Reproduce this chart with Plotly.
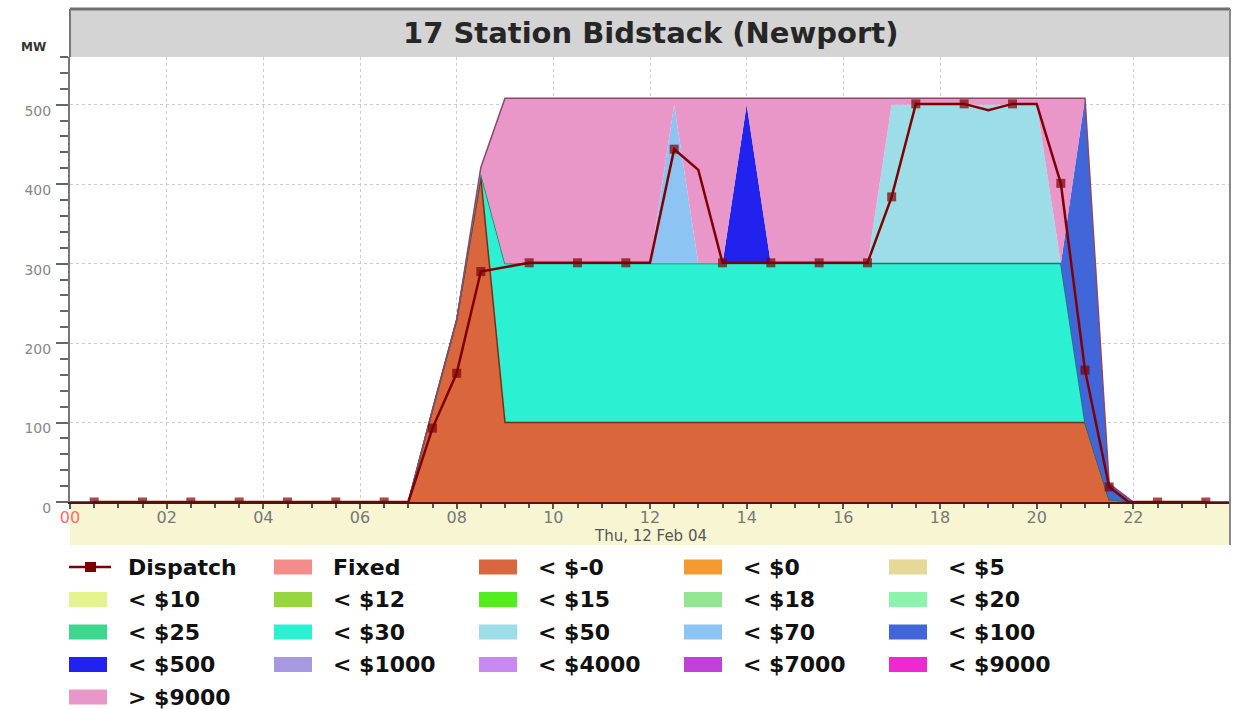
import plotly.graph_objects as go

# ---------------- data ----------------
hours = [0, 7.0, 7.5, 8.0, 8.5, 9.0, 9.5, 10.0, 10.5, 11.0, 11.5, 12.0, 12.5, 13.0,
         13.5, 14.0, 14.5, 15.0, 15.5, 16.0, 16.5, 17.0, 17.5, 18.0, 18.5, 19.0,
         19.5, 20.0, 20.5, 21.0, 21.5, 22.0, 24.0]

band_neg0 = [0, 0, 116, 229, 408, 100, 100, 100, 100, 100, 100, 100, 100, 100,
             100, 100, 100, 100, 100, 100, 100, 100, 100, 100, 100, 100,
             100, 100, 100, 100, 3, 0, 0]
band_30 = [0, 0, 0, 0, 5, 200, 200, 200, 200, 200, 200, 200, 200, 200,
           200, 200, 200, 200, 200, 200, 200, 200, 200, 200, 200, 200,
           200, 200, 200, 0, 0, 0, 0]
band_50 = [0, 0, 0, 0, 0, 0, 0, 0, 0, 0, 0, 0, 0, 0,
           0, 0, 0, 0, 0, 0, 0, 200, 200, 200, 200, 200,
           200, 200, 0, 0, 0, 0, 0]
band_70 = [0, 0, 0, 0, 0, 0, 0, 0, 0, 0, 0, 0, 200, 0,
           0, 0, 0, 0, 0, 0, 0, 0, 0, 0, 0, 0,
           0, 0, 0, 0, 0, 0, 0]
band_100 = [0, 0, 0, 0, 0, 0, 0, 0, 0, 0, 0, 0, 0, 0,
            0, 0, 0, 0, 0, 0, 0, 0, 0, 0, 0, 0,
            0, 0, 0, 408, 20, 0, 0]
band_500 = [0, 0, 0, 0, 0, 0, 0, 0, 0, 0, 0, 0, 0, 0,
            0, 200, 0, 0, 0, 0, 0, 0, 0, 0, 0, 0,
            0, 0, 0, 0, 0, 0, 0]
band_9000plus = [0, 0, 0, 0, 8, 208, 208, 208, 208, 208, 208, 208, 8, 208,
                 208, 8, 208, 208, 208, 208, 208, 8, 8, 8, 8, 8,
                 8, 8, 208, 0, 0, 0, 0]

dispatch_t = [0.5, 1.5, 2.5, 3.5, 4.5, 5.5, 6.5, 7.0, 7.5, 8.0, 8.5, 9.5, 10.5, 11.5,
              12.0, 12.5, 13.0, 13.5, 14.5, 15.5, 16.5, 17.0, 17.5, 18.5, 19.0, 19.5,
              20.0, 20.5, 21.0, 21.5, 21.9, 22.5, 23.5]
dispatch_mw = [0, 0, 0, 0, 0, 0, 0, 0, 93, 162, 290, 301, 301, 301,
               301, 444, 418, 301, 301, 301, 301, 384, 501, 501, 493, 501,
               501, 401, 166, 19, 0, 0, 0]
dispatch_marked = [1, 1, 1, 1, 1, 1, 1, 0, 1, 1, 1, 1, 1, 1,
                   0, 1, 0, 1, 1, 1, 1, 1, 1, 1, 0, 1,
                   0, 1, 1, 1, 0, 1, 1]

x_tick_vals = [0, 2, 4, 6, 8, 10, 12, 14, 16, 18, 20, 22]
x_tick_text = ["00", "02", "04", "06", "08", "10", "12", "14", "16", "18", "20", "22"]
y_tick_vals = [0, 100, 200, 300, 400, 500]
y_tick_text = ["0", "100", "200", "300", "400", "500"]

legend_labels = ["Dispatch", "Fixed", "< $-0", "< $0", "< $5",
                 "< $10", "< $12", "< $15", "< $18", "< $20",
                 "< $25", "< $30", "< $50", "< $70", "< $100",
                 "< $500", "< $1000", "< $4000", "< $7000", "< $9000",
                 "> $9000"]

title_text = "17 Station Bidstack (Newport)"
date_text = "Thu, 12 Feb 04"

# ---------------- styles ----------------
legend_colors = ["#7a0000", "#f48c8c", "#d9663c", "#f39a30", "#e6d898",
                 "#e6f48e", "#96d640", "#52ee22", "#92e692", "#8cf4aa",
                 "#3cd68e", "#2cf0d2", "#9cdde8", "#8ec4f4", "#4166d9",
                 "#2222ee", "#a898e0", "#c88af0", "#c040d8", "#f028d0",
                 "#e897c8"]

stack = [
    ("< $-0", band_neg0, "#d9663c", "#7a2e10", 1.5),
    ("< $30", band_30, "#2cf0d2", "#1d7a68", 1.5),
    ("< $50", band_50, "#9cdde8", "#4a7c86", 0),
    ("< $70", band_70, "#8ec4f4", "#4a6a90", 0),
    ("< $100", band_100, "#4166d9", "#1c2f78", 0),
    ("< $500", band_500, "#2222ee", "#10107a", 0),
    ("> $9000", band_9000plus, "#e897c8", "#8a4a6a", 1.5),
]

FONT = "DejaVu Sans"
W, H = 1237, 709
L, R, T, B = 70, 7, 57, 207
PW, PH = W - L - R, H - T - B


def px_x(p):
    return (p - L) / PW


def px_y(p):
    return (H - B - p) / PH


fig = go.Figure()

for name, vals, fc, lc, lw in stack:
    fig.add_trace(go.Scatter(
        x=hours, y=vals, name=name, mode="lines", stackgroup="bids",
        fillcolor=fc, line=dict(color=lc, width=lw), showlegend=False,
        hoverinfo="skip"))

fig.add_trace(go.Scatter(
    x=dispatch_t, y=dispatch_mw, name="Dispatch", mode="lines+markers",
    line=dict(color="#800000", width=2.5),
    marker=dict(symbol="square", color="#7a0000", line=dict(width=0),
                size=[9 if m else 0 for m in dispatch_marked]),
    showlegend=False, hoverinfo="skip"))

shapes = []
annotations = []

# title band and frame
top_px = 9
shapes.append(dict(type="rect", xref="paper", yref="paper", x0=0, x1=1,
                   y0=1, y1=px_y(top_px), fillcolor="#d4d4d4", line=dict(width=0),
                   layer="below"))
shapes.append(dict(type="rect", xref="paper", yref="paper", x0=0, x1=1,
                   y0=px_y(545), y1=0, fillcolor="#f8f6d2", line=dict(width=0),
                   layer="below"))
shapes.append(dict(type="line", xref="paper", yref="paper", x0=0, x1=1,
                   y0=px_y(top_px), y1=px_y(top_px), line=dict(color="#707070", width=3)))
shapes.append(dict(type="line", xref="paper", yref="paper", x0=0, x1=0,
                   y0=1, y1=px_y(top_px), line=dict(color="#777777", width=2)))
shapes.append(dict(type="line", xref="paper", yref="paper", x0=1, x1=1,
                   y0=px_y(545), y1=px_y(top_px), line=dict(color="#8a8a8a", width=2)))

annotations.append(dict(text=title_text, xref="paper", yref="paper", x=0.5, y=px_y(33),
                        xanchor="center", yanchor="middle", showarrow=False,
                        font=dict(family=FONT, size=29, color="#262626", weight="bold")))
annotations.append(dict(text="MW", xref="paper", yref="paper", x=px_x(33), y=px_y(47),
                        xanchor="center", yanchor="middle", showarrow=False,
                        font=dict(family=FONT, size=12, color="#333333", weight="bold")))
annotations.append(dict(text=date_text, xref="x", yref="paper", x=12, y=px_y(536),
                        xanchor="center", yanchor="middle", showarrow=False,
                        font=dict(family=FONT, size=15, color="#555555")))

# legend (manual grid, 5 columns)
col_left0, col_step = 69, 205
row_top0, row_step = 567, 32.5
sw_w, sw_h = 38, 15
for i, (lab, col) in enumerate(zip(legend_labels, legend_colors)):
    r, c = divmod(i, 5)
    xl = col_left0 + c * col_step
    yc = row_top0 + r * row_step
    if lab == "Dispatch":
        shapes.append(dict(type="line", xref="paper", yref="paper",
                           x0=px_x(xl), x1=px_x(xl + 42), y0=px_y(yc), y1=px_y(yc),
                           line=dict(color=col, width=2.5)))
        shapes.append(dict(type="rect", xref="paper", yref="paper",
                           x0=px_x(xl + 16), x1=px_x(xl + 27),
                           y0=px_y(yc + 5), y1=px_y(yc - 5),
                           fillcolor=col, line=dict(width=0)))
    else:
        shapes.append(dict(type="rect", xref="paper", yref="paper",
                           x0=px_x(xl), x1=px_x(xl + sw_w),
                           y0=px_y(yc + sw_h / 2), y1=px_y(yc - sw_h / 2),
                           fillcolor=col, line=dict(width=0)))
    annotations.append(dict(text=lab, xref="paper", yref="paper",
                            x=px_x(xl + 57), y=px_y(yc), xanchor="left", yanchor="middle",
                            showarrow=False,
                            font=dict(family=FONT, size=22, color="#111111", weight="bold")))

tick_text_x = ["<span style='color:#ff6b6b'>%s</span>" % t if v == 0 else t
               for v, t in zip(x_tick_vals, x_tick_text)]

fig.update_layout(
    width=W, height=H,
    margin=dict(l=L, r=R, t=T, b=B, autoexpand=False),
    paper_bgcolor="white", plot_bgcolor="white",
    showlegend=False,
    shapes=shapes, annotations=annotations,
    xaxis=dict(range=[0, 24], tickvals=x_tick_vals, ticktext=tick_text_x,
               ticks="outside", ticklen=5, tickwidth=1.5, tickcolor="#555555",
               tickfont=dict(family=FONT, size=16, color="#777777"),
               ticklabelstandoff=-5,
               showgrid=True, gridcolor="#cccccc", griddash="dot", gridwidth=1,
               zeroline=False, showline=True, linecolor="#5a1010", linewidth=2,
               minor=dict(dtick=0.5, tick0=0, ticks="outside", ticklen=4,
                          tickcolor="#555555", showgrid=False),
               fixedrange=True),
    yaxis=dict(range=[0, 560], tickvals=y_tick_vals, ticktext=y_tick_text,
               ticks="outside", ticklen=12, tickwidth=1.5, tickcolor="#666666",
               tickfont=dict(family=FONT, size=14, color="#888888"),
               ticklabelshift=6, ticklabelstandoff=2,
               showgrid=True, gridcolor="#cccccc", griddash="dot", gridwidth=1,
               zeroline=False, showline=True, linecolor="#777777", linewidth=2,
               minor=dict(dtick=20, tick0=0, ticks="outside", ticklen=8,
                          tickwidth=2, tickcolor="#666666", showgrid=False),
               fixedrange=True),
)

fig.write_html("out.html", config={"displayModeBar": False},
               post_script="document.body.style.margin='0px';document.body.style.overflow='hidden';")
